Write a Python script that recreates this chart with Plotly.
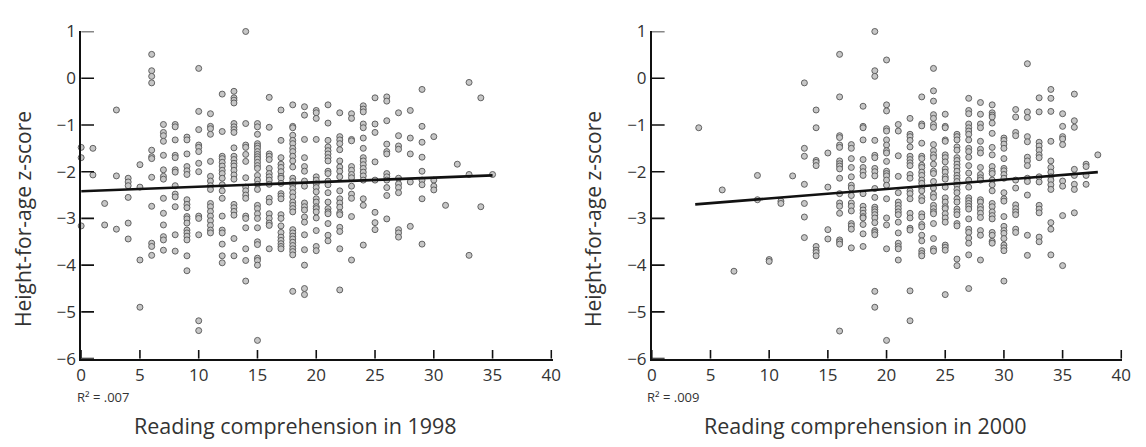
import plotly.graph_objects as go

# ---------------- data ----------------
# Reading comprehension score columns (x) and height-for-age z-scores per column
cols_1998 = [0, 1, 2, 3, 4, 5, 6, 7, 8, 9, 10, 11, 12, 13, 14, 15, 16, 17, 18,
             19, 20, 21, 22, 23, 24, 25, 26, 27, 28, 29, 30, 31, 32, 33, 34, 35]
haz_1998 = [
    [-1.48, -1.7, -3.16],
    [-1.5, -2.07],
    [-2.68, -3.14],
    [-0.68, -2.09, -3.23],
    [-2.14, -2.22, -2.3, -2.55, -3.1, -3.44],
    [-1.85, -2.33, -3.89, -4.9],
    [0.51, 0.16, 0.04, -0.1, -1.54, -1.68, -1.72, -2.12, -2.74, -3.53, -3.6, -3.79],
    [-0.99, -1.16, -1.23, -1.35, -1.65, -1.96, -2.1, -2.16, -2.57, -2.89, -3.14, -3.39, -3.46, -3.68],
    [-0.99, -1.04, -1.32, -1.65, -1.7, -1.96, -2.01, -2.3, -2.48, -2.54, -2.75, -3.35, -3.7],
    [-1.26, -1.32, -1.62, -1.89, -1.98, -2.06, -2.6, -2.7, -2.77, -2.96, -3.01, -3.1, -3.25, -3.31,
     -3.38, -3.46, -3.8, -4.12],
    [0.21, -0.71, -1.1, -1.43, -1.48, -1.57, -1.82, -2.0, -2.95, -3.0, -3.35, -5.19, -5.4],
    [-0.76, -1.03, -1.08, -1.2, -1.78, -2.1, -2.2, -2.3, -2.38, -2.68, -2.75, -2.85, -2.95, -3.05,
     -3.15, -3.25, -3.31],
    [-0.34, -1.14, -1.67, -1.72, -1.8, -1.88, -1.97, -2.04, -2.14, -2.28, -2.41, -2.57, -2.95, -3.25,
     -3.31, -3.55, -3.8, -3.95],
    [-0.28, -0.42, -0.47, -0.53, -0.97, -1.04, -1.1, -1.16, -1.49, -1.67, -1.74, -1.82, -1.88, -1.97,
     -2.07, -2.16, -2.7, -2.77, -2.85, -2.93, -3.43, -3.8],
    [1.0, -0.97, -1.43, -1.48, -1.63, -1.78, -2.13, -2.33, -2.41, -2.5, -2.57, -2.95, -3.0, -3.2,
     -3.65, -3.9, -4.34],
    [-0.97, -1.04, -1.2, -1.4, -1.45, -1.5, -1.57, -1.63, -1.68, -1.73, -1.8, -1.87, -1.93, -2.08,
     -2.18, -2.27, -2.38, -2.72, -2.79, -2.9, -3.0, -3.2, -3.5, -3.56, -3.85, -3.9, -4.0, -5.61],
    [-0.41, -1.05, -1.62, -1.67, -1.74, -1.93, -2.04, -2.11, -2.18, -2.27, -2.57, -2.65, -2.9, -3.0,
     -3.1, -3.15, -3.65],
    [-0.68, -1.33, -1.7, -1.84, -1.91, -2.0, -2.1, -2.14, -2.25, -2.47, -2.52, -2.58, -2.92, -3.0,
     -3.16, -3.3, -3.4, -3.47, -3.54, -3.6, -3.65],
    [-0.57, -1.03, -1.06, -1.22, -1.33, -1.4, -1.5, -1.57, -1.67, -1.77, -1.9, -2.14, -2.21, -2.28,
     -2.36, -2.45, -2.54, -2.65, -2.72, -2.79, -2.86, -3.24, -3.31, -3.38, -3.44, -3.51, -3.58,
     -3.65, -3.71, -3.78, -4.56],
    [-0.61, -0.79, -1.31, -1.7, -1.89, -1.99, -2.2, -2.31, -2.67, -2.75, -2.82, -2.97, -3.08, -3.35,
     -3.67, -4.0, -4.5, -4.63],
    [-0.69, -0.74, -0.86, -1.31, -2.11, -2.18, -2.26, -2.34, -2.43, -2.58, -2.65, -2.75, -2.79, -2.86,
     -2.99, -3.26, -3.6, -3.69],
    [-0.57, -0.96, -1.33, -1.47, -1.55, -1.62, -1.7, -1.77, -1.99, -2.04, -2.2, -2.28, -2.45, -2.65,
     -2.79, -2.86, -2.9, -3.11, -3.36, -3.48],
    [-0.74, -1.25, -1.32, -1.4, -1.53, -1.77, -1.9, -1.99, -2.11, -2.41, -2.58, -2.67, -2.76, -2.88,
     -2.92, -3.19, -3.28, -3.65, -4.53],
    [-0.76, -0.86, -1.31, -1.34, -1.89, -1.97, -2.06, -2.13, -2.31, -2.48, -2.57, -2.96, -3.89],
    [-0.59, -0.66, -0.72, -0.98, -1.06, -1.28, -1.5, -1.7, -1.77, -1.85, -1.93, -2.01, -2.09, -2.18,
     -2.58, -2.72, -3.57],
    [-0.42, -0.98, -1.16, -1.79, -2.18, -2.87, -3.09, -3.24],
    [-0.4, -0.49, -0.91, -1.41, -1.57, -1.62, -2.04, -2.11, -2.18, -2.34, -2.51, -3.01],
    [-0.74, -1.23, -1.45, -1.52, -2.14, -2.26, -2.34, -2.45, -3.24, -3.31, -3.4],
    [-0.69, -1.28, -1.62, -2.22, -3.17],
    [-0.24, -1.03, -1.37, -1.69, -1.99, -2.18, -2.28, -2.58, -3.55],
    [-1.25, -2.18, -2.31, -2.39],
    [-2.72],
    [-1.84],
    [-0.09, -2.06, -3.79],
    [-0.42, -2.75],
    [-2.06],
]

cols_2000 = [4, 6, 7, 9, 10, 11, 12, 13, 14, 15, 16, 17, 18, 19, 20, 21, 22, 23,
             24, 25, 26, 27, 28, 29, 30, 31, 32, 33, 34, 35, 36, 37, 38]
haz_2000 = [
    [-1.06],
    [-2.39],
    [-4.13],
    [-2.08, -2.6],
    [-3.88, -3.92],
    [-2.63, -2.68],
    [-2.09],
    [-0.1, -1.5, -1.67, -2.27, -2.68, -2.97, -3.41],
    [-0.68, -1.06, -1.76, -1.8, -1.87, -3.6, -3.68, -3.73, -3.8],
    [-1.6, -2.33, -3.24, -3.44],
    [0.51, -0.4, -1.23, -1.27, -1.43, -1.48, -1.77, -1.83, -1.88, -1.94, -2.14, -2.47, -2.67, -2.74,
     -2.89, -3.46, -3.5, -3.55, -5.41],
    [-1.42, -1.5, -1.72, -1.91, -2.11, -2.29, -2.35, -2.51, -2.67, -2.74, -2.84, -3.11, -3.16, -3.23,
     -3.63],
    [-0.6, -1.03, -1.06, -1.32, -1.74, -1.91, -2.0, -2.08, -2.47, -2.74, -2.82, -2.89, -2.96, -2.99,
     -3.13, -3.33, -3.6],
    [1.0, 0.16, 0.04, -1.33, -1.65, -1.7, -1.93, -2.0, -2.09, -2.36, -2.55, -2.76, -2.81, -2.86,
     -2.92, -2.99, -3.09, -3.26, -3.3, -3.35, -4.56, -4.9],
    [0.39, -0.57, -0.7, -1.08, -1.13, -1.32, -1.43, -1.55, -1.6, -1.78, -1.99, -2.04, -2.09, -2.18,
     -2.29, -2.58, -2.99, -3.14, -3.65, -5.61],
    [-0.99, -1.13, -1.66, -2.1, -2.45, -2.65, -2.72, -2.79, -2.86, -2.92, -3.08, -3.31, -3.53, -3.6,
     -3.65, -3.89],
    [-0.86, -1.2, -1.25, -1.33, -1.47, -1.67, -1.74, -1.81, -1.87, -2.06, -2.14, -2.41, -2.47, -2.58,
     -2.89, -2.99, -3.21, -3.25, -4.55, -5.19],
    [-0.4, -0.98, -1.02, -1.39, -1.67, -1.72, -1.86, -1.91, -2.01, -2.08, -2.18, -2.25, -2.35, -2.41,
     -2.55, -2.62, -2.9, -2.97, -3.13, -3.18, -3.36, -3.48, -3.69, -3.75, -3.8],
    [0.21, -0.27, -0.49, -0.78, -0.86, -0.99, -1.05, -1.42, -1.55, -1.64, -1.7, -1.84, -1.99, -2.04,
     -2.21, -2.35, -2.48, -2.55, -2.72, -2.79, -2.86, -2.9, -3.11, -3.43, -3.65, -3.7],
    [-0.77, -1.03, -1.06, -1.32, -1.35, -1.64, -1.7, -1.79, -1.94, -2.01, -2.11, -2.16, -2.33, -2.56,
     -2.65, -2.75, -2.79, -2.9, -2.99, -3.08, -3.57, -3.62, -3.68, -4.63],
    [-1.2, -1.25, -1.32, -1.47, -1.54, -1.7, -1.76, -1.84, -1.91, -1.99, -2.08, -2.14, -2.21, -2.29,
     -2.38, -2.45, -2.58, -2.65, -2.8, -2.86, -2.92, -3.11, -3.16, -3.87, -4.01],
    [-0.43, -0.69, -0.76, -0.98, -1.06, -1.13, -1.2, -1.32, -1.5, -1.57, -1.69, -1.87, -2.03, -2.18,
     -2.33, -2.56, -2.62, -2.68, -2.74, -2.8, -3.01, -3.23, -3.3, -3.42, -3.53, -3.78, -4.5],
    [-0.52, -0.77, -0.98, -1.06, -1.35, -1.52, -1.6, -1.91, -2.06, -2.13, -2.18, -2.6, -2.65, -2.75,
     -2.81, -2.89, -2.98, -3.26, -3.36, -3.89],
    [-0.57, -0.74, -0.79, -0.83, -0.96, -1.18, -1.48, -1.64, -1.89, -1.99, -2.04, -2.18, -2.28, -2.41,
     -2.68, -2.75, -2.86, -2.94, -3.01, -3.3, -3.36, -3.49, -3.53],
    [-1.28, -1.33, -1.41, -1.5, -1.72, -1.93, -1.98, -2.06, -2.14, -2.45, -2.58, -2.63, -2.96, -3.17,
     -3.26, -3.32, -3.43, -3.57, -3.63, -3.69, -4.34],
    [-0.67, -0.83, -1.16, -1.23, -2.18, -2.35, -2.71, -2.79, -2.86, -2.92, -3.23, -3.3],
    [0.31, -0.72, -0.84, -1.25, -1.36, -1.69, -1.77, -1.87, -2.14, -2.21, -2.5, -3.36, -3.79],
    [-0.42, -0.72, -1.37, -1.45, -1.54, -1.64, -1.7, -2.11, -2.22, -2.72, -2.8, -2.88, -3.4, -3.5],
    [-0.24, -0.43, -0.71, -1.35, -1.77, -1.91, -2.01, -2.11, -2.18, -2.28, -2.38, -3.09, -3.23, -3.78],
    [-0.76, -1.03, -1.25, -1.3, -1.42, -2.2, -2.31, -2.94, -4.01],
    [-0.34, -0.91, -1.05, -1.95, -2.08, -2.27, -2.38, -2.88],
    [-1.84, -1.89, -2.08, -2.27],
    [-1.64],
]

# fitted regression lines (end points)
fit_x_1998 = [0, 35]
fit_y_1998 = [-2.42, -2.08]
fit_x_2000 = [3.7, 38]
fit_y_2000 = [-2.7, -2.01]

x_ticks = [0, 5, 10, 15, 20, 25, 30, 35, 40]
y_ticks = [1, 0, -1, -2, -3, -4, -5, -6]
x_titles = ["Reading comprehension in 1998", "Reading comprehension in 2000"]
y_title = "Height-for-age z-score"
r2_labels = ["R² = .007", "R² = .009"]

X_MIN, X_MAX = 0, 40
Y_MIN, Y_MAX = -6, 1
PAD_X, PAD_Y = 0.1, 0.002   # tiny range padding at the far ends


def expand(cols, vals):
    xs, ys = [], []
    for c, v in zip(cols, vals):
        for y in v:
            xs.append(c)
            ys.append(y)
    return xs, ys


x98, y98 = expand(cols_1998, haz_1998)
x00, y00 = expand(cols_2000, haz_2000)

W, H = 1146, 447
FONT = "Open Sans"
TXT = "#333333"
AX = "#111111"

# plot-area geometry (pixels of the 0..40 / -6..1 box)
PX_L1, PX_R1 = 69, 545
PX_L2, PX_R2 = 646.7, 1122
PX_TOP, PX_BOT = 12, 357
px_per_x = (PX_R1 - PX_L1) / (X_MAX - X_MIN)
px_per_y = (PX_BOT - PX_TOP) / (Y_MAX - Y_MIN)
ydom = [(H - PX_BOT) / H, (H - PX_TOP) / H]
xdom1 = [PX_L1 / W, (PX_R1 + PAD_X * px_per_x) / W]
xdom2 = [PX_L2 / W, (PX_R2 + PAD_X * px_per_x) / W]

# tick lengths (pixels) converted to axis units
XT_LEN_PX, YT_LEN_PX = 9, 13
xt_len = XT_LEN_PX / px_per_y
yt_len = YT_LEN_PX / px_per_x

marker = dict(size=6, color="#c6c6c6", line=dict(color="#555555", width=0.9))
tick_line = dict(color=AX, width=1.6)

fig = go.Figure()
for xa, ya, xs, ys, fx, fy in [("x", "y", x98, y98, fit_x_1998, fit_y_1998),
                               ("x2", "y2", x00, y00, fit_x_2000, fit_y_2000)]:
    fig.add_trace(go.Scatter(x=xs, y=ys, mode="markers", marker=marker,
                             xaxis=xa, yaxis=ya, cliponaxis=False, showlegend=False))
    fig.add_trace(go.Scatter(x=fx, y=fy, mode="lines", line=dict(color="#111111", width=2.6),
                             xaxis=xa, yaxis=ya, showlegend=False))
    # inside tick marks
    for t in x_ticks:
        fig.add_trace(go.Scatter(x=[t, t], y=[Y_MIN, Y_MIN + xt_len], mode="lines",
                                 line=tick_line, xaxis=xa, yaxis=ya,
                                 showlegend=False, hoverinfo="skip"))
    for t in y_ticks:
        fig.add_trace(go.Scatter(x=[X_MIN, X_MIN + yt_len], y=[t, t], mode="lines",
                                 line=tick_line, xaxis=xa, yaxis=ya,
                                 showlegend=False, hoverinfo="skip"))

xcommon = dict(range=[X_MIN, X_MAX + PAD_X], tickmode="array", tickvals=x_ticks, showline=True,
               linecolor=AX, linewidth=1.6, ticks="", showgrid=False, zeroline=False,
               tickfont=dict(family=FONT, size=17, color=TXT), fixedrange=True)
ycommon = dict(range=[Y_MIN, Y_MAX + PAD_Y], tickmode="array", tickvals=y_ticks,
               showline=True, linecolor=AX, linewidth=1.6, ticks="", showgrid=False,
               zeroline=False, tickfont=dict(family=FONT, size=17, color=TXT), domain=ydom,
               fixedrange=True)

fig.update_layout(
    width=W, height=H,
    margin=dict(l=0, r=0, t=0, b=0),
    paper_bgcolor="white", plot_bgcolor="white",
    xaxis=dict(domain=xdom1, anchor="y", **xcommon),
    yaxis=dict(anchor="x", **ycommon),
    xaxis2=dict(domain=xdom2, anchor="y2", **xcommon),
    yaxis2=dict(anchor="x2", **ycommon),
)

ann = []
for xc, t in zip([286 / W, 863 / W], x_titles):
    ann.append(dict(x=xc, y=(H - 428) / H, xref="paper", yref="paper", text=t, showarrow=False,
                    xanchor="center", yanchor="middle",
                    font=dict(family=FONT, size=21.5, color=TXT)))
for xc in [10 / W, 587 / W]:
    ann.append(dict(x=xc, y=(H - 210) / H, xref="paper", yref="paper", text=y_title,
                    showarrow=False, textangle=-90, xanchor="center", yanchor="middle",
                    font=dict(family=FONT, size=21, color=TXT)))
for xl, t in zip([63 / W, 640 / W], r2_labels):
    ann.append(dict(x=xl, y=(H - 397) / H, xref="paper", yref="paper", text=t, showarrow=False,
                    xanchor="left", yanchor="middle", font=dict(family=FONT, size=13, color=TXT)))
fig.update_layout(annotations=ann)

fig.write_html("out.html")
